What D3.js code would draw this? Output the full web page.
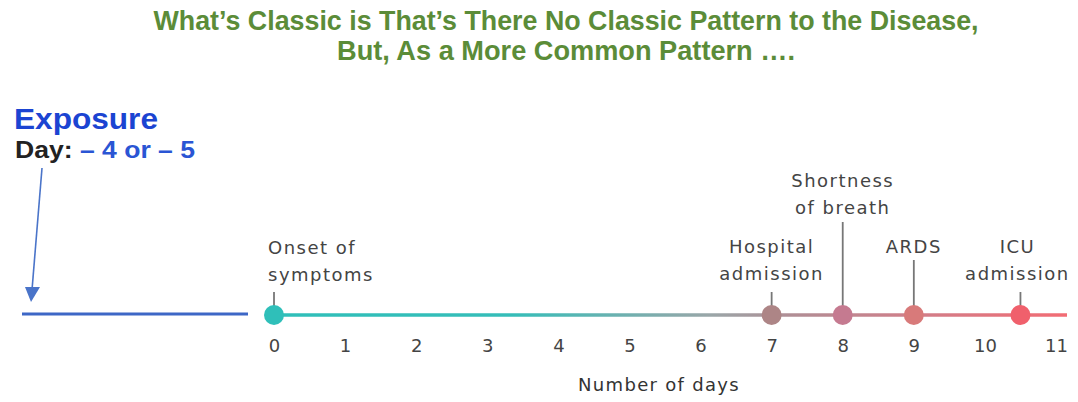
<!DOCTYPE html>
<html><head><meta charset="utf-8">
<script src="https://cdn.jsdelivr.net/npm/d3@7"></script>
<style>
html,body{margin:0;padding:0;background:#fff;}
svg{display:block;}
</style></head>
<body>
<svg id="c" width="1078" height="402"></svg>
<script>
// ---- data ----
const titleLines = ["What’s Classic is That’s There No Classic Pattern to the Disease,", "But, As a More Common Pattern …."];
const dayTicks = [0,1,2,3,4,5,6,7,8,9,10,11];
const eventDays = [0, 7, 8, 9, 10.5];
const eventLabels = [["Onset of","symptoms"],["Hospital","admission"],["Shortness","of breath"],["ARDS"],["ICU","admission"]];
const eventColors = ["#2fbfb9","#ad8586","#c57a90","#d87a7a","#f0606c"];
const axisTitle = "Number of days";
const exposureTitle = "Exposure";
const exposureDayLabel = "Day:";
const exposureDayValue = "– 4 or – 5";

// ---- layout ----
const svg = d3.select("#c");
const x = d3.scaleLinear().domain([0,11]).range([274,1056]);
const axisY = 315;
const labelTop = [254, 253, 187, 253, 253];
const stemTop = [292, 292, 222, 260, 292];
const labelAnchor = ["start","middle","middle","middle","middle"];
const labelDx = [-6, 0, 0, 0, -3];
const titleWidths = [825, 458];
const labelFont = "'DejaVu Sans',Verdana,sans-serif";

// title
svg.append("g").selectAll("text").data(titleLines).join("text")
  .attr("x", 566).attr("y", (d,i)=>30+i*30)
  .attr("text-anchor","middle")
  .attr("font-family","'Liberation Sans Narrow','Arial Narrow','Liberation Sans',sans-serif")
  .attr("font-weight","bold").attr("font-size",27)
  .attr("textLength",(d,i)=>titleWidths[i]).attr("lengthAdjust","spacingAndGlyphs")
  .attr("fill","#5b8c38").text(d=>d);

// exposure
svg.append("text").attr("x",14).attr("y",129)
  .attr("font-family","'Liberation Sans',Arial,sans-serif").attr("font-weight","bold")
  .attr("font-size",29).attr("textLength",144).attr("lengthAdjust","spacingAndGlyphs")
  .attr("fill","#1b44d2").text(exposureTitle);
const dt = svg.append("text").attr("x",15).attr("y",158)
  .attr("font-family","'Liberation Sans',Arial,sans-serif").attr("font-weight","bold")
  .attr("font-size",24).attr("textLength",180).attr("lengthAdjust","spacingAndGlyphs");
dt.append("tspan").attr("fill","#222").text(exposureDayLabel + " ");
dt.append("tspan").attr("fill","#2a55d4").text(exposureDayValue);

// arrow
svg.append("line").attr("x1",42).attr("y1",168).attr("x2",32).attr("y2",290)
  .attr("stroke","#4a74c9").attr("stroke-width",1.6);
svg.append("path").attr("d","M25,287 L40,287 L31,302 Z").attr("fill","#4a74c9");

// exposure line
svg.append("line").attr("x1",22).attr("x2",248).attr("y1",314).attr("y2",314)
  .attr("stroke","#3d67c6").attr("stroke-width",3);

// gradient
const defs = svg.append("defs");
const grad = defs.append("linearGradient").attr("id","g1").attr("gradientUnits","userSpaceOnUse")
  .attr("x1",x(0)).attr("x2",x(11)+11).attr("y1",0).attr("y2",0);
[[0,"#2fbfb9"],[0.3,"#35bdb8"],[0.55,"#9aa6a8"],[0.65,"#b08e95"],[0.8,"#cf7f8a"],[1,"#f26c74"]]
  .forEach(s=>grad.append("stop").attr("offset",s[0]).attr("stop-color",s[1]));
svg.append("line").attr("x1",x(0)).attr("x2",x(11)+11).attr("y1",axisY).attr("y2",axisY)
  .attr("stroke","url(#g1)").attr("stroke-width",3.5);

// axis tick labels
const axis = d3.axisBottom(x).tickValues(dayTicks).tickSize(0).tickPadding(24);
const ag = svg.append("g").attr("transform",`translate(0,${axisY})`).call(axis);
ag.select(".domain").remove();
ag.selectAll("text").attr("font-family",labelFont).attr("font-size",18).attr("fill","#444");

svg.append("text").attr("x",659).attr("y",391).attr("text-anchor","middle")
  .attr("font-family",labelFont).attr("font-size",18).attr("letter-spacing",1.3)
  .attr("fill","#333").text(axisTitle);

// events
const ev = svg.append("g").selectAll("g").data(eventDays).join("g");
ev.append("line").attr("x1",d=>x(d)).attr("x2",d=>x(d)).attr("y1",(d,i)=>stemTop[i]).attr("y2",axisY)
  .attr("stroke","#777").attr("stroke-width",1.8);
ev.append("circle").attr("cx",d=>x(d)).attr("cy",axisY).attr("r",10).attr("fill",(d,i)=>eventColors[i]);
ev.each(function(d,i){
  const t = d3.select(this).append("text")
    .attr("font-family",labelFont).attr("font-size",18).attr("letter-spacing",1.5).attr("fill","#444")
    .attr("text-anchor",labelAnchor[i]);
  eventLabels[i].forEach((l,j)=>t.append("tspan").attr("x",x(d)+labelDx[i]).attr("y",labelTop[i]+j*27).text(l));
});
</script>
</body></html>
